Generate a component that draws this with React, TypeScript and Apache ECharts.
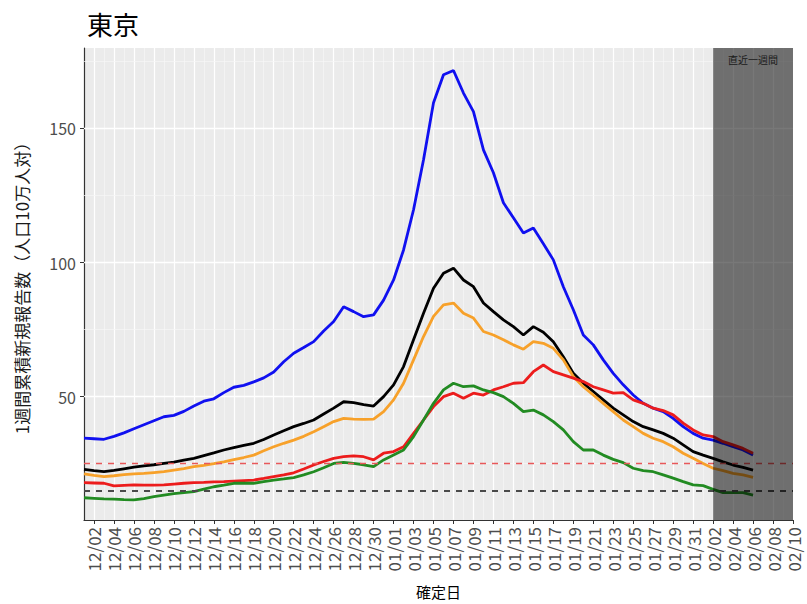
import React, { useEffect, useRef } from "react";
import * as echarts from "echarts";

// Dates 12/01 .. 02/10
const dates: string[] = [
  "12/01","12/02","12/03","12/04","12/05","12/06","12/07","12/08","12/09","12/10",
  "12/11","12/12","12/13","12/14","12/15","12/16","12/17","12/18","12/19","12/20",
  "12/21","12/22","12/23","12/24","12/25","12/26","12/27","12/28","12/29","12/30","12/31",
  "01/01","01/02","01/03","01/04","01/05","01/06","01/07","01/08","01/09","01/10",
  "01/11","01/12","01/13","01/14","01/15","01/16","01/17","01/18","01/19","01/20",
  "01/21","01/22","01/23","01/24","01/25","01/26","01/27","01/28","01/29","01/30","01/31",
  "02/01","02/02","02/03","02/04","02/05","02/06","02/07","02/08","02/09","02/10",
];

const blueSeries: number[] = [
  34.5, 34.3, 34.1, 35.2, 36.5, 38.0, 39.5, 41.0, 42.5, 43.0,
  44.5, 46.5, 48.3, 49.2, 51.5, 53.5, 54.2, 55.5, 57.0, 59.2,
  63.0, 66.2, 68.3, 70.5, 74.5, 78.0, 83.5, 81.7, 79.8, 80.5,
  86.0, 93.5, 104.7, 119.7, 138.3, 159.6, 170.0, 171.6, 163.2, 156.3,
  142.0, 133.5, 122.3, 116.7, 111.0, 112.9, 107.0, 101.0, 91.0, 82.4,
  73.0, 69.3, 63.7, 58.7, 54.4, 50.6, 47.5, 45.7, 44.4, 41.9,
  38.8, 36.3, 34.5, 33.8, 32.6, 31.3, 30.1, 28.2,
];

const blackSeries: number[] = [
  22.9, 22.4, 22.0, 22.5, 23.1, 23.7, 24.2, 24.6, 25.1, 25.6,
  26.3, 27.0, 28.0, 29.0, 30.1, 31.0, 31.8, 32.6, 34.0, 35.7,
  37.3, 38.8, 40.0, 41.3, 43.5, 45.7, 48.1, 47.8, 47.0, 46.5,
  50.0, 54.4, 61.2, 71.2, 81.1, 90.4, 96.0, 97.9, 93.5, 91.0,
  84.9, 81.7, 78.6, 76.1, 73.0, 76.1, 74.0, 70.5, 64.9, 58.7,
  55.0, 51.9, 48.8, 45.7, 43.2, 40.7, 38.8, 37.6, 36.3, 34.5,
  32.0, 29.5, 28.2, 27.0, 25.7, 24.5, 23.6, 22.6,
];

const orangeSeries: number[] = [
  21.2, 20.6, 20.2, 20.5, 20.9, 21.2, 21.4, 21.7, 22.0, 22.6,
  23.2, 23.9, 24.4, 25.0, 25.7, 26.5, 27.3, 28.2, 29.8, 31.3,
  32.6, 33.8, 35.2, 36.9, 38.8, 40.7, 41.9, 41.6, 41.5, 41.6,
  44.4, 48.8, 55.0, 63.7, 72.4, 79.9, 84.2, 84.9, 81.1, 79.3,
  74.3, 73.0, 71.2, 69.3, 67.7, 70.5, 69.9, 68.0, 63.7, 57.5,
  53.7, 50.6, 47.5, 44.4, 41.3, 38.8, 36.3, 34.5, 33.2, 31.3,
  28.9, 27.0, 25.1, 23.3, 22.4, 21.4, 20.8, 19.9,
];

const redSeries: number[] = [
  17.9, 17.8, 17.7, 16.7, 16.9, 17.1, 17.0, 17.0, 17.1, 17.4,
  17.7, 17.9, 18.0, 18.2, 18.3, 18.5, 18.7, 18.9, 19.5, 20.2,
  20.8, 21.6, 23.0, 24.5, 25.8, 27.0, 27.6, 27.9, 27.6, 26.4,
  28.9, 29.5, 31.3, 36.3, 41.3, 46.3, 50.0, 51.3, 49.4, 51.3,
  50.6, 52.5, 53.7, 55.0, 55.2, 59.3, 61.8, 59.3, 58.1, 56.9,
  55.6, 53.7, 52.5, 51.3, 51.5, 48.8, 47.5, 45.7, 44.8, 43.2,
  40.1, 37.6, 35.7, 35.1, 33.2, 32.0, 30.7, 28.9,
];

const greenSeries: number[] = [
  12.3, 12.1, 11.9, 11.8, 11.6, 11.5, 12.0, 12.7, 13.3, 13.8,
  14.2, 14.6, 15.5, 16.4, 17.0, 17.7, 17.7, 17.7, 18.3, 18.9,
  19.3, 19.8, 20.8, 22.0, 23.5, 25.1, 25.5, 25.1, 24.6, 23.9,
  26.4, 28.2, 30.1, 35.1, 41.3, 47.5, 52.5, 55.0, 53.7, 54.0,
  52.5, 51.5, 50.0, 47.5, 44.4, 45.0, 43.2, 40.7, 37.6, 33.2,
  30.1, 30.1, 28.2, 26.6, 25.4, 23.3, 22.4, 22.0, 20.8, 19.6,
  18.3, 17.1, 16.8, 15.4, 14.2, 14.2, 14.2, 13.3,
];

const yTickValues: number[] = [50, 100, 150];
const yMinorValues: number[] = [25, 75, 125, 175];
const redThreshold = 25;
const blackThreshold = 15;
const recentStart = "02/02";
const recentEnd = "02/10";
const recentLabel = "直近一週間";
const titleText = "東京";
const yName = "1週間累積新規報告数（人口10万人対）";
const xName = "確定日";

const FONT = "'Noto Sans CJK JP', 'Noto Sans', sans-serif";

export default function App() {
  const ref = useRef<HTMLDivElement>(null);
  useEffect(() => {
    document.body.style.margin = "0";
    if (!ref.current) return;
    const chart = echarts.init(ref.current, undefined, { renderer: "svg" });
    const lineSeries = (name: string, data: number[], color: string) => ({
      name,
      type: "line",
      data,
      xAxisIndex: 0,
      showSymbol: false,
      symbol: "none",
      z: 3,
      lineStyle: { color, width: 2.8 },
      itemStyle: { color },
    });
    chart.setOption({
      animation: false,
      backgroundColor: "#ffffff",
      title: {
        text: titleText,
        left: 82,
        top: 5,
        textStyle: { fontSize: 26, fontWeight: "normal", color: "#000", fontFamily: FONT },
      },
      grid: {
        left: 84,
        right: 14,
        top: 48,
        bottom: 76,
        show: true,
        backgroundColor: "#ebebeb",
        borderWidth: 0,
      },
      xAxis: [
        {
          type: "category",
          data: dates,
          boundaryGap: false,
          name: xName,
          nameLocation: "middle",
          nameGap: 64,
          nameTextStyle: { fontSize: 15, color: "#000", fontFamily: FONT },
          axisLine: { show: true, onZero: false, lineStyle: { color: "#333", width: 1.2 } },
          axisTick: {
            show: true,
            length: 4,
            interval: (i: number) => i % 2 === 1,
            lineStyle: { color: "#333" },
          },
          axisLabel: {
            interval: (i: number) => i % 2 === 1,
            rotate: 90,
            margin: 7,
            fontSize: 17,
            color: "#4d4d4d",
            fontFamily: FONT,
          },
          splitLine: {
            show: true,
            interval: (i: number) => i % 2 === 1,
            lineStyle: { color: "#ffffff", width: 1.2 },
          },
        },
        {
          type: "category",
          data: dates,
          boundaryGap: false,
          position: "bottom",
          axisLine: { show: false },
          axisTick: { show: false },
          axisLabel: { show: false },
          splitLine: {
            show: true,
            interval: (i: number) => i % 2 === 0,
            lineStyle: { color: "#f7f7f7", width: 0.7 },
          },
        },
      ],
      yAxis: {
        type: "value",
        min: 4,
        max: 180,
        splitNumber: 4,
        name: yName,
        nameLocation: "middle",
        nameGap: 54,
        nameRotate: 90,
        nameTextStyle: { fontSize: 17, color: "#1a1a1a", fontFamily: FONT },
        axisLine: { show: true, lineStyle: { color: "#333", width: 1.2 } },
        axisTick: { show: true, length: 4, customValues: yTickValues, lineStyle: { color: "#333" } },
        axisLabel: {
          customValues: yTickValues,
          margin: 8,
          fontSize: 16,
          color: "#4d4d4d",
          fontFamily: FONT,
          formatter: (v: number) => (yTickValues.indexOf(v) >= 0 ? String(v) : ""),
        },
        splitLine: { show: false },
      },
      series: [
        {
          name: "grid",
          type: "line",
          data: [],
          silent: true,
          z: 1,
          markLine: {
            z: 1,
            silent: true,
            symbol: ["none", "none"],
            label: { show: false },
            data: [
              ...yTickValues.map((v) => ({ yAxis: v, lineStyle: { color: "#ffffff", width: 1.4, type: "solid" } })),
              ...yMinorValues.map((v) => ({ yAxis: v, lineStyle: { color: "#f7f7f7", width: 0.7, type: "solid" } })),
            ],
          },
        },
        lineSeries("blue", blueSeries, "#1010f0"),
        lineSeries("black", blackSeries, "#000000"),
        lineSeries("orange", orangeSeries, "#f7a12a"),
        lineSeries("red", redSeries, "#ec1c1c"),
        lineSeries("green", greenSeries, "#228b22"),
        {
          name: "thresholds",
          type: "line",
          data: [],
          silent: true,
          z: 4,
          markLine: {
            z: 4,
            silent: true,
            symbol: ["none", "none"],
            label: { show: false },
            data: [
              { yAxis: redThreshold, lineStyle: { color: "#e8585a", width: 1.3, type: [6, 6] } },
              { yAxis: blackThreshold, lineStyle: { color: "#4a4a4a", width: 1.8, type: [6, 6] } },
            ],
          },
        },
        {
          name: "recent",
          type: "line",
          data: [],
          silent: true,
          z: 10,
          markArea: {
            z: 10,
            silent: true,
            itemStyle: { color: "rgba(0,0,0,0.53)" },
            label: {
              show: true,
              position: "insideTop",
              distance: 6,
              fontSize: 10,
              color: "#1a1a1a",
              fontFamily: FONT,
            },
            data: [[{ xAxis: recentStart, name: recentLabel }, { xAxis: recentEnd }]],
          },
        },
      ],
    });
    return () => chart.dispose();
  }, []);
  return <div ref={ref} style={{ width: 807, height: 604 }} />;
}
